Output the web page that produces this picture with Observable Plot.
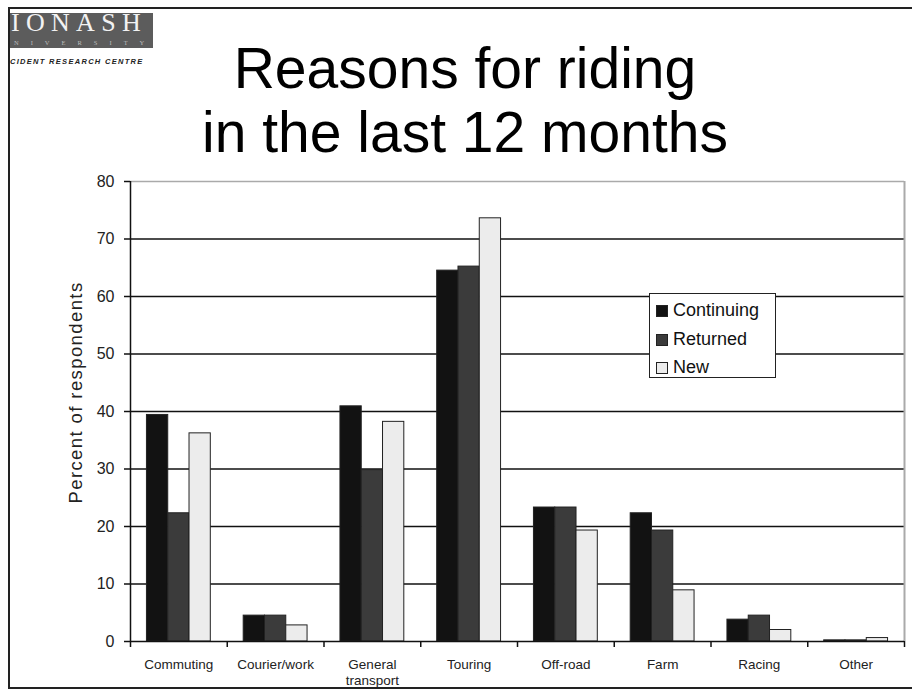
<!DOCTYPE html>
<html>
<head>
<meta charset="utf-8">
<script src="https://cdn.jsdelivr.net/npm/d3@7"></script>
<script src="https://cdn.jsdelivr.net/npm/@observablehq/plot@0.6"></script>
<style>
  html, body { margin: 0; padding: 0; background: #fff; }
  #page { position: relative; width: 912px; height: 693px; overflow: hidden; font-family: "Liberation Sans", Arial, sans-serif; }
  #chart { position: absolute; left: 0; top: 0; }
  #frame { position: absolute; left: 8px; top: 7px; width: 920px; height: 682px; border-left: 2px solid #222; border-top: 2px solid #222; border-bottom: 2px solid #222; box-sizing: border-box; pointer-events: none; }
  #logo { position: absolute; left: 10px; top: 13px; width: 143px; height: 35px; background: #5c5c5c; }
  #logo .big { position: absolute; left: 1px; top: -1px; font-family: "Liberation Serif", "DejaVu Serif", serif; font-size: 26px; line-height: 22px; letter-spacing: 6.3px; color: #f2f2f2; white-space: nowrap; }
  #logo .small { position: absolute; left: 4px; top: 26px; font-family: "Liberation Serif", serif; font-size: 6.5px; line-height: 7px; letter-spacing: 12px; color: #bbb; white-space: nowrap; }
  #centre { position: absolute; left: 10px; top: 58px; font-size: 7.5px; line-height: 8px; font-weight: bold; font-style: italic; color: #222; white-space: nowrap; letter-spacing: 1.3px; }
  #title { position: absolute; left: 0; width: 930px; top: 36px; text-align: center; font-size: 57px; line-height: 64px; color: #000; }
  #legend { position: absolute; left: 649px; top: 293px; width: 127px; height: 85px; box-sizing: border-box; border: 1.5px solid #222; background: #fff; font-size: 18px; color: #111; }
  #legend .item { position: absolute; left: 6px; height: 20px; line-height: 20px; white-space: nowrap; }
  #legend .sw { display: inline-block; width: 12px; height: 12px; border: 1px solid #222; vertical-align: -1px; margin-right: 5px; box-sizing: border-box; }
</style>
</head>
<body>
<div id="page">
  <div id="chart"></div>
  <div id="logo"><span class="big">IONASH</span><span class="small">NIVERSITY</span></div>
  <div id="centre">CIDENT RESEARCH CENTRE</div>
  <div id="title">Reasons for riding<br>in the last 12 months</div>
  <div id="legend"></div>
  <div id="frame"></div>
</div>
<script>
// ---- data ----
const categories = ["Commuting", "Courier/work", "General\ntransport", "Touring", "Off-road", "Farm", "Racing", "Other"];
const seriesNames = ["Continuing", "Returned", "New"];
const continuing = [39.4, 4.5, 40.9, 64.5, 23.3, 22.3, 3.8, 0.2];
const returned   = [22.3, 4.5, 29.8, 65.2, 23.3, 19.3, 4.5, 0.2];
const newRiders  = [36.2, 2.8, 38.2, 73.6, 19.3, 8.9, 2.0, 0.6];
const yTicks = [0, 10, 20, 30, 40, 50, 60, 70, 80];
const colors = ["#121212", "#3b3b3b", "#ececec"];

// ---- table ----
const seriesValues = [continuing, returned, newRiders];
const groupOffset = 0.17, barWidth = 0.22;
const rows = categories.flatMap((c, i) => seriesNames.map((s, j) => ({
  category: c, index: i, series: s,
  x1: i + groupOffset + j * barWidth,
  x2: i + groupOffset + (j + 1) * barWidth,
  value: seriesValues[j][i]
})));
const boundaries = d3.range(categories.length + 1);
const centers = categories.map((c, i) => i + 0.5);

const chart = Plot.plot({
  width: 912,
  height: 693,
  marginLeft: 130,
  marginRight: 8,
  marginTop: 181,
  marginBottom: 52,
  style: { fontFamily: "Liberation Sans, Arial, sans-serif", background: "transparent" },
  x: { type: "linear", domain: [0, categories.length], axis: null },
  y: { domain: [0, 80], axis: null },
  color: { domain: seriesNames, range: colors },
  marks: [
    Plot.ruleY(yTicks.filter(t => t > 0 && t < 80), { stroke: "#111", strokeWidth: 1.5 }),
    Plot.ruleY([80], { stroke: "#aaa", strokeWidth: 1.5 }),
    Plot.ruleX([categories.length], { stroke: "#aaa", strokeWidth: 2 }),
    Plot.rectY(rows, { x1: "x1", x2: "x2", y1: 0, y2: "value", fill: "series", stroke: "#222", strokeWidth: 1 }),
    Plot.ruleX([0], { stroke: "#111", strokeWidth: 1.5 }),
    Plot.ruleY([0], { stroke: "#111", strokeWidth: 1.5 }),
    Plot.axisY({ ticks: yTicks, tickSize: 6, tickPadding: 10, fontSize: 16, color: "#222", stroke: "#111", strokeWidth: 1.5, label: null }),
    Plot.axisX({ ticks: boundaries, tickFormat: () => "", tickSize: 6, stroke: "#111", strokeWidth: 1.5, label: null }),
    Plot.axisX({ ticks: centers, tickFormat: (d) => categories[Math.round(d - 0.5)], tickSize: 0, tickPadding: 16, fontSize: 13.5, lineHeight: 1.2, color: "#222", label: null }),
    Plot.text(["Percent of respondents"], { frameAnchor: "left", textAnchor: "middle", dx: -54, dy: -19, rotate: -90, fontSize: 18.5, fill: "#222" })
  ]
});
document.getElementById("chart").appendChild(chart);
chart.querySelectorAll("text").forEach(t => {
  if (t.textContent === "Percent of respondents") t.setAttribute("letter-spacing", "1.4");
});

// legend
const legend = document.getElementById("legend");
seriesNames.forEach((s, j) => {
  const item = document.createElement("div");
  item.className = "item";
  item.style.top = (6 + j * 28.5) + "px";
  const sw = document.createElement("span");
  sw.className = "sw";
  sw.style.background = colors[j];
  item.appendChild(sw);
  item.appendChild(document.createTextNode(s));
  legend.appendChild(item);
});
</script>
</body>
</html>
